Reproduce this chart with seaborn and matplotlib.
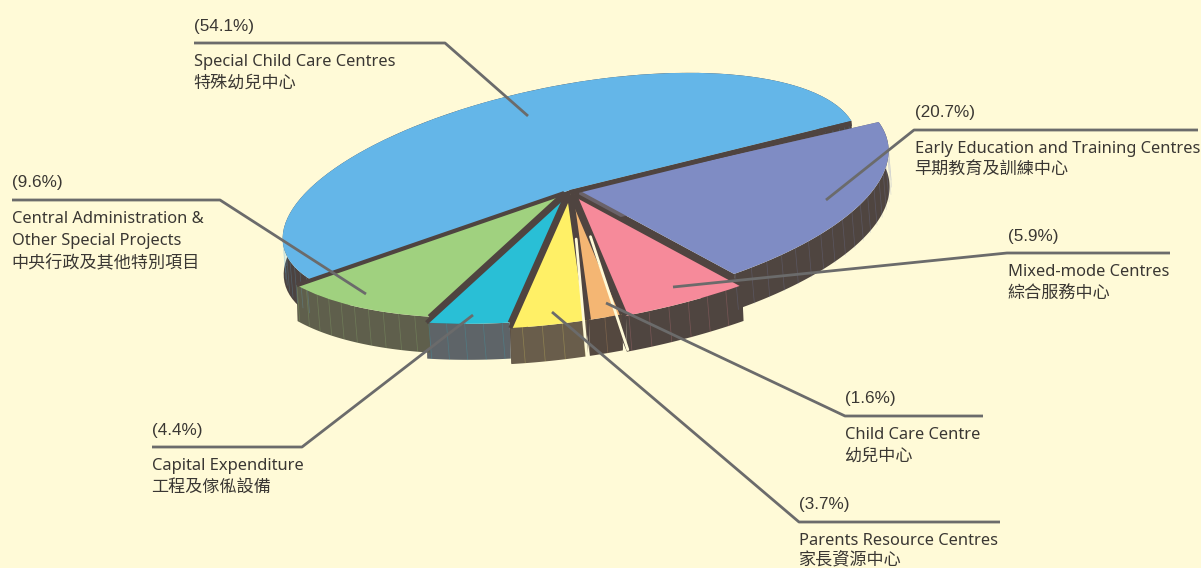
import numpy as np
import seaborn as sns
import matplotlib.pyplot as plt
from matplotlib.patches import Polygon
from matplotlib.transforms import Affine2D

# values, clockwise from the big slice
shares = [54.1, 20.7, 5.9, 1.6, 3.7, 4.4, 9.6]
names_en = ["Special Child Care Centres", "Early Education and Training Centres",
            "Mixed-mode Centres", "Child Care Centre", "Parents Resource Centres",
            "Capital Expenditure", "Central Administration &\nOther Special Projects"]
names_zh = ["特殊幼兒中心", "早期教育及訓練中心", "綜合服務中心", "幼兒中心",
            "家長資源中心", "工程及傢俬設備", "中央行政及其他特別項目"]
top_colors = ["#64b6e8", "#7f8cc4", "#f68a9a", "#f4b673", "#fff066", "#29bfd6", "#a0d17f"]
side_colors = ["#4c4340", "#4f4540", "#4f4540", "#54483f", "#695d4b", "#5e6468", "#5f5f4c"]

BG = "#fffad7"
TEXT = "#3a3733"
LINE = "#6b6b6b"
DARK = "#4f4440"

sns.set_theme(style="white", rc={"figure.facecolor": BG, "axes.facecolor": BG})
plt.rcParams["font.family"] = ["Noto Sans", "Noto Sans CJK TC", "DejaVu Sans"]

fig = plt.figure(figsize=(12.01, 5.68), dpi=100)
ax = fig.add_axes([0, 0, 1, 1])

explode = [0, 0.035, 0.05, 0.05, 0.05, 0.04, 0.03]
# front slices are drawn bigger, the original has some perspective
radii = [1, 1.1, 1.19, 1.17, 1.17, 1.13, 1.09]
wedges, _ = ax.pie(shares, colors=sns.color_palette(top_colors), explode=explode,
                   startangle=202.5, counterclock=False,
                   wedgeprops={"linewidth": 0, "zorder": 5})

ax.set_aspect("auto")
ax.set_xlim(0, 1201)
ax.set_ylim(568, 0)
ax.axis("off")

# flat disc -> tilted ellipse, in pixel coords
CX, CY = 570, 190
disc = Affine2D().scale(292, 105).rotate_deg(11).scale(1, -1).translate(CX, CY)
# everything but the big slice leans a little
lean = Affine2D().translate(-CX, -CY).skew(np.arctan(0.13), np.arctan(0.025)).translate(CX, CY)
DEPTH = 36

for k, (w, side) in enumerate(zip(wedges, side_colors)):
    w.set_radius(radii[k])
    tr = disc if k == 0 else disc + lean
    w.set_transform(tr + ax.transData)

    cx, cy = w.center
    th = np.radians(np.linspace(w.theta1, w.theta2, 80))
    top = tr.transform(np.column_stack([cx + w.r * np.cos(th), cy + w.r * np.sin(th)]))
    hub = tr.transform([[cx, cy]])[0]
    down = np.array([1, DEPTH])

    # outer wall
    wall = np.vstack([top, (top + down)[::-1]])
    ax.add_patch(Polygon(wall, fc=side, ec="none", zorder=2))
    # the two cut faces
    for j, end in enumerate((top[0], top[-1])):
        face = [hub, end, end + down, hub + down]
        fc = "#6a6268" if k == 1 and j == 1 else DARK
        ax.add_patch(Polygon(face, fc=fc, ec="none", zorder=1.5 if fc != DARK else 1))
        if k >= 2:
            ax.plot([hub[0], end[0]], [hub[1], end[1]], color=DARK, lw=3, zorder=5.5,
                    solid_capstyle="butt")
    # ribs on the wall
    for t in np.radians(np.arange(np.ceil(w.theta1 / 3.5) * 3.5, w.theta2, 3.5)):
        p = tr.transform([[cx + w.r * np.cos(t), cy + w.r * np.sin(t)]])[0]
        ax.plot([p[0], p[0] + 3], [p[1], p[1] + DEPTH], color=w.get_facecolor(),
                lw=0.5, alpha=0.25, zorder=3)

# dark strip under the big slice's right cut
blue = wedges[0]
th = np.radians(blue.theta1)
edge = disc.transform([[0, 0], [np.cos(th), np.sin(th)]])
ax.plot(edge[:, 0], edge[:, 1] + 2.5, color=DARK, lw=3.5, zorder=6, solid_capstyle="butt")

# cream slits either side of the small orange slice
w = wedges[3]
tr = disc + lean
for ang, off in ((w.theta1, -0.7), (w.theta2, 0.7)):
    t = np.radians(ang + off)
    r0, r1 = 0.35 * w.r, w.r
    a, b = tr.transform([[w.center[0] + r0 * np.cos(t), w.center[1] + r0 * np.sin(t)],
                         [w.center[0] + r1 * np.cos(t), w.center[1] + r1 * np.sin(t)]])
    ax.plot([a[0], b[0] + 2], [a[1], b[1] + DEPTH], color=BG, lw=2, zorder=6)

leaders = [
    [(194, 43), (445, 43), (528, 116)],
    [(1198, 130), (914, 130), (826, 200)],
    [(1170, 253), (1007, 253), (673, 287)],
    [(983, 416), (845, 416), (606, 303)],
    [(1000, 522), (799, 522), (552, 312)],
    [(152, 447), (302, 447), (473, 315)],
    [(12, 200), (220, 200), (366, 294)],
]
label_x = [194, 915, 1008, 845, 799, 152, 12]

for i, pts in enumerate(leaders):
    xs, ys = zip(*pts)
    ax.plot(xs, ys, color=LINE, lw=2, solid_capstyle="butt", zorder=8)
    y0 = pts[0][1]
    ax.text(label_x[i], y0 - 17, f"({shares[i]}%)", family="Liberation Sans",
            fontsize=12.3, color=TEXT, va="center", ha="left")
    y = y0 + 19
    for part in names_en[i].split("\n"):
        ax.text(label_x[i], y, part, fontsize=11.85, color=TEXT, va="center", ha="left")
        y += 22
    ax.text(label_x[i] - 1, min(y - 1, 559), names_zh[i], fontsize=12.3, color=TEXT,
            va="center", ha="left", family=["Noto Sans CJK TC", "DejaVu Sans"])

fig.savefig("out.png", dpi=100, facecolor=BG)
